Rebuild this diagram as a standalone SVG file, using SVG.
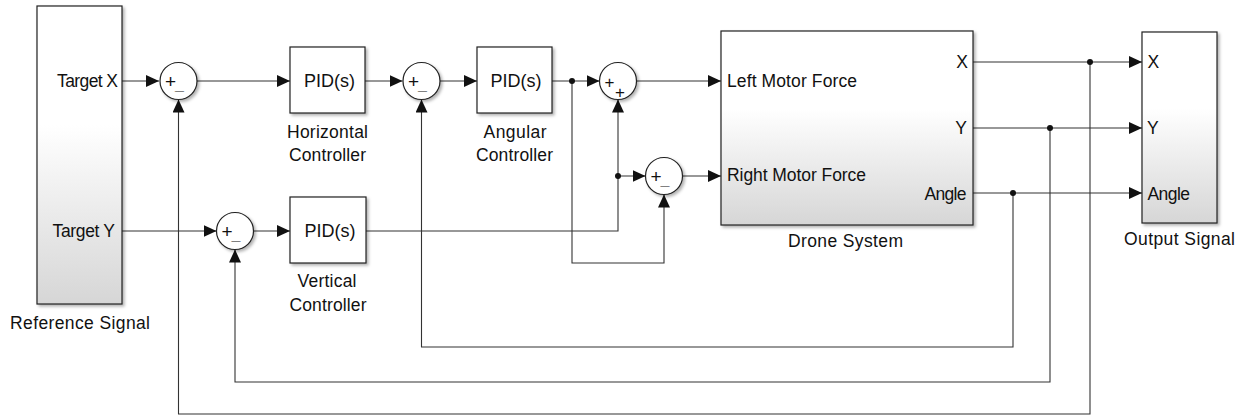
<svg xmlns="http://www.w3.org/2000/svg" width="1244" height="417" viewBox="0 0 1244 417">
<style>
text{font-family:"Liberation Sans",Arial,sans-serif;font-size:17.5px;fill:#111}
.pid{font-size:18px;text-anchor:middle}
.e{text-anchor:end}
.blk{stroke:#222;stroke-width:1.2}
.sum{fill:#fff;stroke:#222;stroke-width:1.2}
.ln{fill:none;stroke:#333;stroke-width:1.1}
.dot{fill:#111}
.sg{font-size:19px;text-anchor:middle}
.sg2{font-size:17px;text-anchor:middle}
.us{font-size:16px;font-weight:bold;text-anchor:middle}
</style>
<defs>
<linearGradient id="g" x1="0" y1="0" x2="0" y2="1">
<stop offset="0" stop-color="#ffffff"/>
<stop offset="0.4" stop-color="#ffffff"/>
<stop offset="1" stop-color="#d6d6d6"/>
</linearGradient>
<filter id="sh" x="-10%" y="-10%" width="130%" height="130%">
<feDropShadow dx="2" dy="2" stdDeviation="1.5" flood-color="#000" flood-opacity="0.3"/>
</filter>
<marker id="a" viewBox="0 0 13 12" refX="13" refY="6" markerWidth="13" markerHeight="12" markerUnits="userSpaceOnUse" orient="auto">
<path d="M0,0 L13,6 L0,12 z" fill="#111"/>
</marker>
</defs>

<g id="connectors">
<path class="ln" d="M122,81 H159" marker-end="url(#a)"/>
<path class="ln" d="M197,81 H290" marker-end="url(#a)"/>
<path class="ln" d="M365,81 H402.5" marker-end="url(#a)"/>
<path class="ln" d="M440,81 H477" marker-end="url(#a)"/>
<path class="ln" d="M552,81 H599.5" marker-end="url(#a)"/>
<path class="ln" d="M572,81 V263 H664 V194.5" marker-end="url(#a)"/>
<path class="ln" d="M637,81 H721" marker-end="url(#a)"/>
<path class="ln" d="M122,231 H216.5" marker-end="url(#a)"/>
<path class="ln" d="M253.5,231 H290" marker-end="url(#a)"/>
<path class="ln" d="M366,231 H618 V176 H645.5" marker-end="url(#a)"/>
<path class="ln" d="M618,176 V99.5" marker-end="url(#a)"/>
<path class="ln" d="M682.5,176 H721" marker-end="url(#a)"/>
<path class="ln" d="M973,62 H1142" marker-end="url(#a)"/>
<path class="ln" d="M973,128 H1142" marker-end="url(#a)"/>
<path class="ln" d="M973,193 H1142" marker-end="url(#a)"/>
<path class="ln" d="M1013,193 V347 H421.5 V99.5" marker-end="url(#a)"/>
<path class="ln" d="M1050,128 V382 H235 V249.5" marker-end="url(#a)"/>
<path class="ln" d="M1090,62 V414 H178.5 V99.5" marker-end="url(#a)"/>
<circle class="dot" cx="572" cy="81" r="3"/>
<circle class="dot" cx="618" cy="176" r="3"/>
<circle class="dot" cx="1090" cy="62" r="3"/>
<circle class="dot" cx="1050" cy="128" r="3"/>
<circle class="dot" cx="1013" cy="193" r="3"/>
</g>

<g id="reference-signal">
<rect class="blk" x="37" y="6" width="85" height="298" fill="url(#g)" filter="url(#sh)"/>
<text x="57" y="87" textLength="61">Target X</text>
<text x="52.5" y="237" textLength="62.5">Target Y</text>
<text x="10" y="328.5" textLength="140">Reference Signal</text>
</g>

<g id="sum1">
<circle class="sum" cx="178.5" cy="81" r="18.5" filter="url(#sh)"/>
<text class="sg" x="170.5" y="88">+</text>
<text class="us" x="179.5" y="89.5">_</text>
</g>

<g id="horizontal-controller">
<rect class="blk" x="290" y="47" width="75" height="66" fill="#fff" filter="url(#sh)"/>
<text class="pid" x="329.5" y="86.7">PID(s)</text>
<text x="287" y="137.5" textLength="81">Horizontal</text>
<text x="289" y="161" textLength="77">Controller</text>
</g>

<g id="sum2">
<circle class="sum" cx="421.5" cy="81" r="18.5" filter="url(#sh)"/>
<text class="sg" x="413.5" y="88">+</text>
<text class="us" x="422.5" y="89.5">_</text>
</g>

<g id="angular-controller">
<rect class="blk" x="477" y="47" width="75" height="66" fill="#fff" filter="url(#sh)"/>
<text class="pid" x="516" y="86.7">PID(s)</text>
<text x="483.5" y="137.5" textLength="63">Angular</text>
<text x="476" y="161" textLength="77">Controller</text>
</g>

<g id="sum3">
<circle class="sum" cx="618" cy="81" r="18.5" filter="url(#sh)"/>
<text class="sg2" x="609.5" y="87.5">+</text>
<text class="sg2" x="620" y="98">+</text>
</g>

<g id="sum4">
<circle class="sum" cx="664" cy="176" r="18.5" filter="url(#sh)"/>
<text class="sg" x="656" y="183">+</text>
<text class="us" x="665" y="184.5">_</text>
</g>

<g id="sum5">
<circle class="sum" cx="235" cy="231" r="18.5" filter="url(#sh)"/>
<text class="sg" x="227" y="238">+</text>
<text class="us" x="236" y="239.5">_</text>
</g>

<g id="vertical-controller">
<rect class="blk" x="290" y="197" width="76" height="66" fill="#fff" filter="url(#sh)"/>
<text class="pid" x="330" y="237">PID(s)</text>
<text x="297.5" y="287" textLength="59">Vertical</text>
<text x="289.5" y="310.5" textLength="77">Controller</text>
</g>

<g id="drone-system">
<rect class="blk" x="721" y="31" width="252" height="194" fill="url(#g)" filter="url(#sh)"/>
<text x="727" y="87" textLength="130">Left Motor Force</text>
<text x="727" y="180.5" textLength="139">Right Motor Force</text>
<text class="e" x="968" y="67.5">X</text>
<text class="e" x="967" y="133.5">Y</text>
<text x="924.5" y="199.5" textLength="42">Angle</text>
<text x="788" y="246.5" textLength="115">Drone System</text>
</g>

<g id="output-signal">
<rect class="blk" x="1142" y="32" width="75" height="191" fill="url(#g)" filter="url(#sh)"/>
<text x="1147.5" y="68">X</text>
<text x="1147" y="133.5">Y</text>
<text x="1147.5" y="199.5" textLength="42.5">Angle</text>
<text x="1124" y="245" textLength="111">Output Signal</text>
</g>
</svg>
